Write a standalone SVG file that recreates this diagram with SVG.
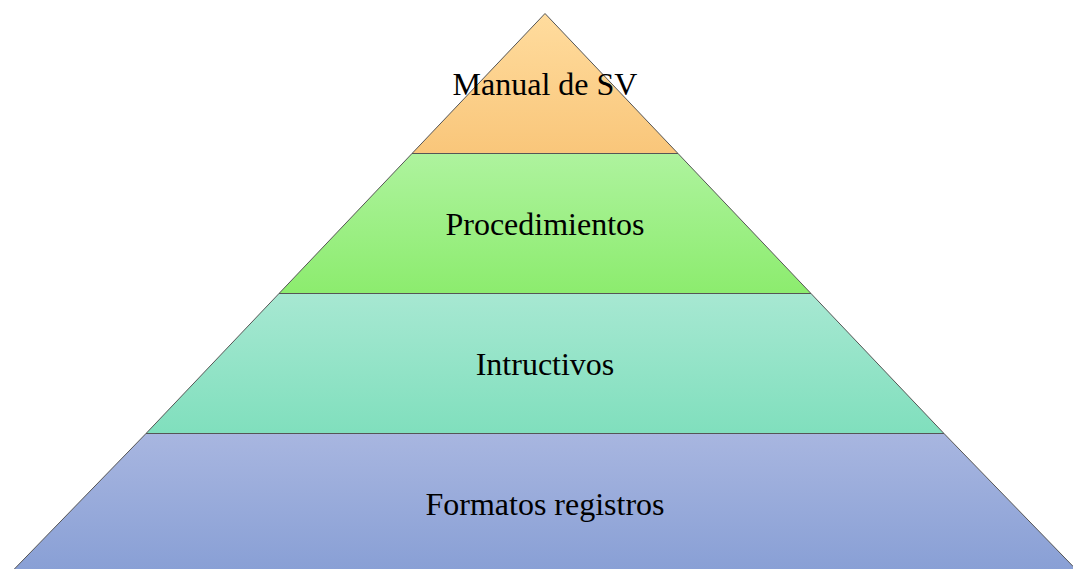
<svg xmlns="http://www.w3.org/2000/svg" width="1073" height="569" viewBox="0 0 1073 569">
<style>
.lv{stroke:#555555;stroke-width:1}
.t{font-family:"Liberation Serif","Times New Roman",serif;font-size:32px;fill:#000;text-anchor:middle}
</style>
<defs>
<linearGradient id="g1" x1="0" y1="0" x2="0" y2="1"><stop offset="0" stop-color="#FFDC9E"/><stop offset="1" stop-color="#F9C67A"/></linearGradient>
<linearGradient id="g2" x1="0" y1="0" x2="0" y2="1"><stop offset="0" stop-color="#AEF39E"/><stop offset="1" stop-color="#8CEC6E"/></linearGradient>
<linearGradient id="g3" x1="0" y1="0" x2="0" y2="1"><stop offset="0" stop-color="#A7E8D2"/><stop offset="1" stop-color="#80DFBD"/></linearGradient>
<linearGradient id="g4" x1="0" y1="0" x2="0" y2="1"><stop offset="0" stop-color="#A8B6E0"/><stop offset="1" stop-color="#889FD5"/></linearGradient>
</defs>
<g id="level4"><polygon class="lv" fill="url(#g4)" points="146,433.5 944,433.5 1080,573.5 10,573.5"/><text class="t" x="545" y="515">Formatos registros</text></g>
<g id="level3"><polygon class="lv" fill="url(#g3)" points="279,293.5 811,293.5 944,433.5 146,433.5"/><text class="t" x="545" y="375">Intructivos</text></g>
<g id="level2"><polygon class="lv" fill="url(#g2)" points="412,153.5 678,153.5 811,293.5 279,293.5"/><text class="t" x="545" y="235">Procedimientos</text></g>
<g id="level1"><polygon class="lv" fill="url(#g1)" points="545,13.5 678,153.5 412,153.5"/><text class="t" x="545" y="95">Manual de SV</text></g>
<g id="connectors"></g>
</svg>
